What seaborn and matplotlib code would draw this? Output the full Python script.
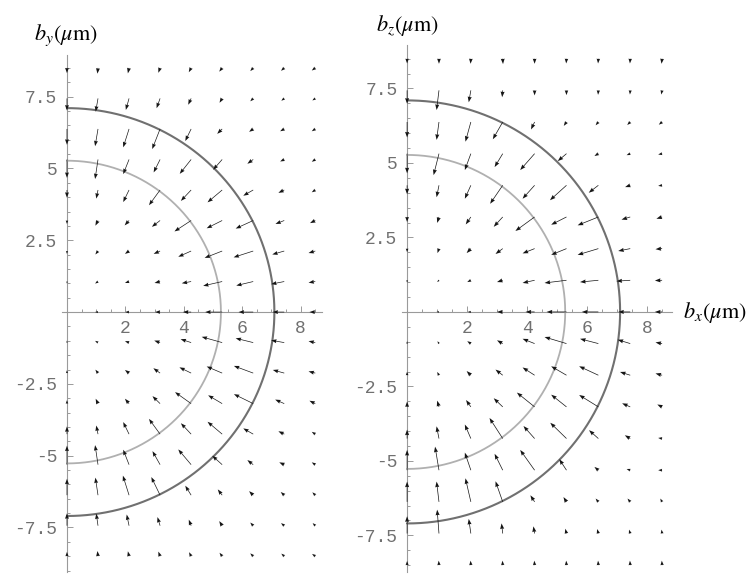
import numpy as np
import pandas as pd
import matplotlib
matplotlib.use("Agg")
import matplotlib.pyplot as plt
import seaborn as sns
from matplotlib.ticker import FixedLocator, FixedFormatter, MultipleLocator

# Sample points of the field (µm): columns along b_x, rows from top (+) to bottom (-)
bx_points = [0.0, 1.0625, 2.125, 3.1875, 4.25, 5.3125, 6.375, 7.4375, 8.5]
bt_points = [8.5, 7.4375, 6.375, 5.3125, 4.25, 3.1875, 2.125, 1.0625, 0.0,
             -1.0625, -2.125, -3.1875, -4.25, -5.3125, -6.375, -7.4375, -8.5]

# Ring radii (µm)
inner_radius = 5.27
outer_radius = 7.1

# Transverse plane (b_x, b_y): x-components of the arrows
by_plane_u = [
    [0, -0.02, -0.04, -0.06, -0.08, -0.10, -0.10, -0.11, -0.12],
    [0, -0.08, -0.11, -0.12, -0.10, -0.09, -0.10, -0.10, -0.10],
    [0, -0.10, -0.20, -0.27, -0.20, -0.17, -0.14, -0.14, -0.12],
    [0, -0.10, -0.20, -0.22, -0.39, -0.31, -0.20, -0.14, -0.12],
    [0, -0.06, -0.20, -0.38, -0.35, -0.50, -0.34, -0.20, -0.12],
    [0, -0.09, -0.15, -0.28, -0.57, -0.53, -0.60, -0.30, -0.18],
    [0, -0.09, -0.14, -0.22, -0.44, -0.60, -0.67, -0.41, -0.23],
    [0, -0.10, -0.14, -0.19, -0.32, -0.65, -0.58, -0.45, -0.23],
    [0, -0.10, -0.13, -0.17, -0.28, -0.58, -0.50, -0.40, -0.20],
    [0, -0.10, -0.14, -0.20, -0.36, -0.70, -0.60, -0.45, -0.23],
    [0, -0.09, -0.14, -0.23, -0.40, -0.53, -0.66, -0.39, -0.23],
    [0, -0.08, -0.14, -0.26, -0.55, -0.48, -0.66, -0.31, -0.20],
    [0, -0.06, -0.20, -0.38, -0.35, -0.50, -0.34, -0.20, -0.12],
    [0, -0.10, -0.20, -0.26, -0.44, -0.34, -0.20, -0.17, -0.12],
    [0, -0.09, -0.21, -0.30, -0.20, -0.15, -0.14, -0.12, -0.10],
    [0, -0.06, -0.08, -0.09, -0.08, -0.10, -0.10, -0.11, -0.09],
    [0, -0.02, -0.04, -0.06, -0.07, -0.09, -0.10, -0.10, -0.11],
]
# Transverse plane (b_x, b_y): y-components of the arrows
by_plane_v = [
    [-0.18, -0.20, -0.19, -0.17, -0.15, -0.13, -0.11, -0.10, -0.09],
    [-0.42, -0.46, -0.40, -0.34, -0.22, -0.15, -0.10, -0.08, -0.07],
    [-0.55, -0.60, -0.64, -0.70, -0.42, -0.17, -0.10, -0.08, -0.08],
    [-0.64, -0.68, -0.51, -0.45, -0.50, -0.36, -0.15, -0.07, -0.08],
    [-0.27, -0.30, -0.42, -0.53, -0.38, -0.43, -0.20, -0.10, -0.08],
    [-0.12, -0.18, -0.17, -0.22, -0.38, -0.27, -0.28, -0.12, -0.09],
    [-0.10, -0.12, -0.10, -0.10, -0.20, -0.24, -0.22, -0.12, -0.07],
    [-0.07, -0.07, -0.05, -0.05, -0.06, -0.15, -0.14, -0.09, -0.04],
    [0, 0, 0, 0, 0, 0, 0, 0, 0],
    [0.07, 0.06, 0.05, 0.07, 0.12, 0.20, 0.15, 0.08, 0.05],
    [0.10, 0.12, 0.11, 0.17, 0.20, 0.23, 0.25, 0.11, 0.06],
    [0.12, 0.17, 0.17, 0.26, 0.40, 0.29, 0.33, 0.14, 0.10],
    [0.27, 0.30, 0.42, 0.53, 0.38, 0.43, 0.20, 0.10, 0.08],
    [0.66, 0.68, 0.52, 0.47, 0.53, 0.31, 0.16, 0.08, 0.08],
    [0.57, 0.61, 0.68, 0.63, 0.33, 0.20, 0.14, 0.11, 0.10],
    [0.43, 0.42, 0.39, 0.30, 0.21, 0.16, 0.11, 0.09, 0.09],
    [0.15, 0.18, 0.17, 0.16, 0.14, 0.12, 0.10, 0.09, 0.08],
]

# Longitudinal plane (b_x, b_z): x-components of the arrows
bz_plane_u = [
    [0, 0.00, -0.01, 0.01, 0.00, -0.01, -0.01, -0.01, -0.02],
    [0, -0.08, -0.07, -0.02, 0.00, 0.00, -0.01, -0.01, -0.03],
    [0, -0.08, -0.18, -0.33, -0.12, -0.09, -0.09, -0.10, -0.11],
    [0, -0.18, -0.20, -0.27, -0.48, -0.29, -0.13, -0.12, -0.13],
    [0, -0.08, -0.20, -0.42, -0.40, -0.55, -0.32, -0.17, -0.13],
    [0, -0.06, -0.17, -0.30, -0.64, -0.51, -0.69, -0.29, -0.19],
    [0, -0.05, -0.14, -0.24, -0.40, -0.51, -0.69, -0.40, -0.22],
    [0, -0.06, -0.12, -0.19, -0.40, -0.73, -0.61, -0.46, -0.24],
    [0, -0.08, -0.10, -0.19, -0.30, -0.66, -0.55, -0.40, -0.24],
    [0, -0.05, -0.12, -0.19, -0.40, -0.73, -0.61, -0.42, -0.22],
    [0, -0.06, -0.14, -0.24, -0.40, -0.51, -0.64, -0.34, -0.22],
    [0, -0.06, -0.16, -0.30, -0.59, -0.51, -0.64, -0.27, -0.16],
    [0, -0.08, -0.20, -0.44, -0.37, -0.54, -0.31, -0.18, -0.13],
    [0, -0.13, -0.20, -0.27, -0.48, -0.24, -0.13, -0.12, -0.13],
    [0, -0.08, -0.18, -0.24, -0.14, -0.10, -0.09, -0.09, -0.06],
    [0, -0.06, -0.07, -0.04, -0.04, -0.04, -0.04, -0.04, -0.02],
    [0, -0.01, -0.01, -0.01, -0.01, -0.01, -0.01, -0.01, -0.01],
]
# Longitudinal plane (b_x, b_z): z-components of the arrows
bz_plane_v = [
    [-0.16, -0.17, -0.17, -0.18, -0.17, -0.16, -0.16, -0.16, -0.17],
    [-0.45, -0.66, -0.40, -0.23, -0.17, -0.16, -0.15, -0.14, -0.14],
    [-0.52, -0.60, -0.66, -0.58, -0.25, -0.13, -0.11, -0.10, -0.09],
    [-0.66, -0.72, -0.55, -0.45, -0.55, -0.25, -0.08, -0.05, -0.03],
    [-0.30, -0.40, -0.45, -0.62, -0.45, -0.50, -0.25, -0.06, -0.02],
    [-0.17, -0.20, -0.25, -0.33, -0.47, -0.26, -0.28, -0.09, -0.06],
    [-0.12, -0.15, -0.15, -0.18, -0.16, -0.21, -0.21, -0.08, -0.02],
    [-0.08, -0.06, -0.06, -0.06, -0.09, -0.09, -0.06, -0.03, -0.01],
    [0, 0, 0, 0, 0, 0, 0, 0, 0],
    [0.08, 0.08, 0.08, 0.11, 0.16, 0.22, 0.16, 0.13, 0.04],
    [0.12, 0.11, 0.14, 0.19, 0.26, 0.30, 0.30, 0.11, 0.06],
    [0.18, 0.21, 0.23, 0.29, 0.48, 0.41, 0.40, 0.12, 0.08],
    [0.30, 0.41, 0.47, 0.69, 0.42, 0.53, 0.28, 0.11, 0.02],
    [0.68, 0.79, 0.59, 0.55, 0.68, 0.37, 0.11, 0.04, 0.00],
    [0.68, 0.68, 0.79, 0.69, 0.22, 0.16, 0.11, 0.11, 0.11],
    [0.58, 0.80, 0.49, 0.34, 0.24, 0.16, 0.15, 0.13, 0.13],
    [0.14, 0.15, 0.15, 0.15, 0.15, 0.15, 0.15, 0.15, 0.15],
]

x_tick_values = [2, 4, 6, 8]
x_tick_labels = ["2", "4", "6", "8"]
y_tick_values = [7.5, 5, 2.5, -2.5, -5, -7.5]
y_tick_labels = ["7.5", "5", "2.5", "-2.5", "-5", "-7.5"]

sns.set_theme(style="white")
plt.rcParams["mathtext.fontset"] = "stix"
plt.rcParams["font.family"] = ["DejaVu Sans"]

W, H = 750, 574
fig = plt.figure(figsize=(W / 100, H / 100), dpi=100)
fig.patch.set_facecolor("white")


def px_axes(left, top, right, bottom):
    return fig.add_axes([left / W, 1 - bottom / H, (right - left) / W, (bottom - top) / H])


axis_grey = "#9a9a9a"
label_grey = "#707070"


def draw_panel(ax, u, v, xlim, ylim):
    gx, gy = np.meshgrid(bx_points, bt_points)
    ax.set_xlim(*xlim)
    ax.set_ylim(*ylim)
    ax.set_facecolor("white")

    theta = np.linspace(-np.pi / 2, np.pi / 2, 400)
    rings = pd.DataFrame({
        "bx": np.concatenate([outer_radius * np.cos(theta), inner_radius * np.cos(theta)]),
        "bt": np.concatenate([outer_radius * np.sin(theta), inner_radius * np.sin(theta)]),
        "ring": ["outer"] * len(theta) + ["inner"] * len(theta),
    })
    sns.lineplot(data=rings[rings.ring == "inner"], x="bx", y="bt", sort=False,
                 estimator=None, color="#b0b0b0", lw=1.3, ax=ax, zorder=2)
    sns.lineplot(data=rings[rings.ring == "outer"], x="bx", y="bt", sort=False,
                 estimator=None, color="#707070", lw=1.5, ax=ax, zorder=2)
    ax.set_xlabel("")
    ax.set_ylabel("")

    ax.quiver(gx, gy, np.array(u), np.array(v), angles="xy", scale_units="xy",
              scale=1, color="#151515", width=0.0026, headwidth=5.8,
              headlength=8.0, headaxislength=7.4, minshaft=1, minlength=0.5,
              linewidth=0, zorder=3)

    for side in ("top", "right"):
        ax.spines[side].set_visible(False)
    ax.spines["left"].set_position(("data", 0))
    ax.spines["bottom"].set_position(("data", 0))
    for side in ("left", "bottom"):
        ax.spines[side].set_color(axis_grey)
        ax.spines[side].set_linewidth(0.8)
        ax.spines[side].set_zorder(1)

    ax.xaxis.set_major_locator(FixedLocator(x_tick_values))
    ax.xaxis.set_major_formatter(FixedFormatter(x_tick_labels))
    ax.yaxis.set_major_locator(FixedLocator(y_tick_values))
    ax.yaxis.set_major_formatter(FixedFormatter(y_tick_labels))
    ax.xaxis.set_minor_locator(MultipleLocator(0.5))
    ax.yaxis.set_minor_locator(MultipleLocator(0.5))
    ax.tick_params(which="both", direction="in", color=axis_grey, width=0.7,
                   bottom=True, left=True)
    ax.tick_params(which="major", length=4)
    ax.tick_params(which="minor", length=2)
    ax.tick_params(axis="x", which="major", pad=6)
    ax.tick_params(axis="y", which="major", pad=7)
    for lab in ax.get_xticklabels() + ax.get_yticklabels():
        lab.set_fontfamily("Liberation Mono")
        lab.set_fontsize(13)
        lab.set_color(label_grey)
    ax.grid(False)


ax_left = px_axes(62, 55, 322, 572)
draw_panel(ax_left, by_plane_u, by_plane_v, (-0.17, 8.73), (-9.05, 8.95))

ax_right = px_axes(402, 45, 672, 572)
draw_panel(ax_right, bz_plane_u, bz_plane_v, (-0.17, 8.83), (-8.73, 8.96))

fig.text(34 / W, 1 - 40 / H, r"$b_y(\mu\mathrm{m})$", fontsize=16, color="black",
         ha="left", va="baseline")
fig.text(376 / W, 1 - 31 / H, r"$b_z(\mu\mathrm{m})$", fontsize=16, color="black",
         ha="left", va="baseline")
fig.text(683 / W, 1 - 318 / H, r"$b_x(\mu\mathrm{m})$", fontsize=16, color="black",
         ha="left", va="baseline")

fig.savefig("out.png", dpi=100, facecolor="white")
